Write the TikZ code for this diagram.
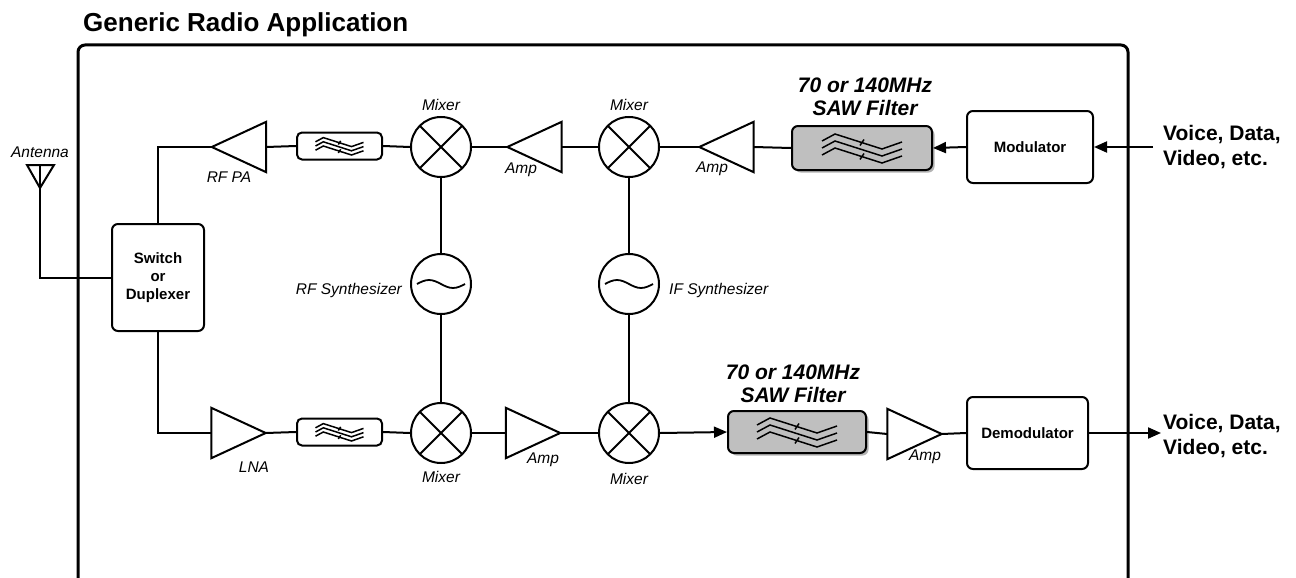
\documentclass[tikz,border=0pt]{standalone}
\usepackage{fontspec}
\setmainfont{Liberation Sans}
\usetikzlibrary{arrows.meta,shadows}
\newcommand\filtsym[2]{%
\begin{scope}[shift={(#1.center)}, scale=#2, line width=1.5pt]
 \foreach \d in {-7,0,7}{\draw (-40,\d) -- (-27,\d-7) -- (20,\d+8) -- (40,\d+1);}
 \draw (-2,-2.5) -- (2,-8.5);
 \draw (-2,11.5) -- (2,5.5);
\end{scope}}
\begin{document}
\begin{tikzpicture}[x=1pt,y=-1pt,
 wire/.style={line width=2pt},
 blk/.style={draw, line width=2pt, rounded corners=6pt, inner sep=0pt, font=\bfseries\fontsize{15}{18}\selectfont, align=center},
 filt/.style={draw, line width=2pt, rounded corners=5pt, minimum width=85pt, minimum height=27pt, inner sep=0pt},
 saw/.style={draw, line width=2pt, rounded corners=6pt, fill=black!25, drop shadow={shadow xshift=2.5pt, shadow yshift=-2.5pt, opacity=0.6}, inner sep=0pt},
 mix/.style={draw, circle, line width=2pt, minimum size=60pt, inner sep=0pt,
   path picture={\draw[line width=2pt] (path picture bounding box.north west) -- (path picture bounding box.south east) (path picture bounding box.north east) -- (path picture bounding box.south west);}},
 osc/.style={draw, circle, line width=2pt, minimum size=60pt, inner sep=0pt,
   path picture={\draw[line width=1.8pt] ([xshift=-24pt]path picture bounding box.center) sin ++(12pt,4pt) cos ++(12pt,-4pt) sin ++(12pt,-4pt) cos ++(12pt,4pt);}},
 ampbox/.style={minimum width=54pt, minimum height=50pt, inner sep=0pt},
 amptri/.style={line width=2pt, line join=miter},
 lbl/.style={font=\itshape\fontsize{15.5}{18}\selectfont, inner sep=0pt},
 sawlbl/.style={font=\bfseries\itshape\fontsize{21}{23}\selectfont, inner sep=0pt, align=center},
 io/.style={font=\bfseries\fontsize{21}{25}\selectfont, inner sep=0pt, align=left, anchor=west},
 arr/.style={line width=2pt, -{Triangle[length=13pt,width=11pt]}}
]
\useasboundingbox (0,0) rectangle (1296,578);

% title and frame
\node[anchor=base west, font=\bfseries\fontsize{26}{30}\selectfont, inner sep=0pt] (title) at (83,32) {Generic Radio Application};
\draw[line width=3pt, rounded corners=7pt] (78,600) -- (78,45) -- (1128,45) -- (1128,600);

% switch
\node[blk, minimum width=92pt, minimum height=107pt] (sw) at (158,277.5) {Switch\\or\\Duplexer};

% antenna
\coordinate (ant) at (40,188);
\coordinate (antl) at (27,165);
\coordinate (antr) at (54,165);
\coordinate (antt) at (40,165);
\draw[wire, line join=miter] (antl) -- (antr) -- (ant) -- cycle;
\draw[wire] (antt) -- (ant);
\node[lbl] (antlbl) at (40,152) {Antenna};
\draw[wire] (ant) |- (sw.west);

% top row (transmit)
\node[ampbox] (pa) at (239,147) {};
\draw[amptri] (pa.west) -- (pa.north east) -- (pa.south east) -- cycle;
\node[lbl] (palbl) at (229,177) {RF PA};
\node[filt] (f1) at (339.5,146) {};
\filtsym{f1}{0.6}
\node[mix] (m1) at (441,147) {};
\node[lbl] (m1lbl) at (441,105) {Mixer};
\node[ampbox] (a2) at (534.5,147) {};
\draw[amptri] (a2.west) -- (a2.north east) -- (a2.south east) -- cycle;
\node[lbl] (a2lbl) at (521,170) {Amp};
\node[mix] (m2) at (629,147) {};
\node[lbl] (m2lbl) at (629,105) {Mixer};
\node[ampbox] (a3) at (726.5,147) {};
\draw[amptri] (a3.west) -- (a3.north east) -- (a3.south east) -- cycle;
\node[lbl] (a3lbl) at (712,169) {Amp};
\node[saw, minimum width=140pt, minimum height=44pt] (saw1) at (862,148) {};
\filtsym{saw1}{1}
\node[sawlbl] (saw1lbl) at (865,96.5) {70 or 140MHz\\SAW Filter};
\node[blk, minimum width=126pt, minimum height=72pt] (mod) at (1030,147) {Modulator};
\coordinate (in1) at (1153,147);
\node[io] (vin) at (1163,147.5) {Voice, Data,\\Video, etc.};

\draw[wire] (sw.north) |- (pa.west);
\draw[wire] (pa.east) -- (f1.west);
\draw[wire] (f1.east) -- (m1.west);
\draw[wire] (m1.east) -- (a2.west);
\draw[wire] (a2.east) -- (m2.west);
\draw[wire] (m2.east) -- (a3.west);
\draw[wire] (a3.east) -- (saw1.west);
\draw[arr] (mod.west) -- (saw1.east);
\draw[arr] (in1) -- (mod.east);

% synthesizers
\node[osc] (rfs) at (441,284) {};
\node[lbl, anchor=east] (rfslbl) at (402,290) {RF Synthesizer};
\node[osc] (ifs) at (629,284) {};
\node[lbl, anchor=west] (ifslbl) at (669,290) {IF Synthesizer};

% bottom row (receive)
\node[ampbox] (lna) at (238.5,433) {};
\draw[amptri] (lna.east) -- (lna.north west) -- (lna.south west) -- cycle;
\node[lbl] (lnalbl) at (254,467) {LNA};
\node[filt] (f2) at (339.5,432) {};
\filtsym{f2}{0.6}
\node[mix] (m3) at (441,433) {};
\node[lbl] (m3lbl) at (441,477) {Mixer};
\node[ampbox] (b2) at (533,433) {};
\draw[amptri] (b2.east) -- (b2.north west) -- (b2.south west) -- cycle;
\node[lbl] (b2lbl) at (543,460) {Amp};
\node[mix] (m4) at (629,433) {};
\node[lbl] (m4lbl) at (629,479) {Mixer};
\node[saw, minimum width=138pt, minimum height=42pt] (saw2) at (797,432) {};
\filtsym{saw2}{1}
\node[sawlbl] (saw2lbl) at (793,383.5) {70 or 140MHz\\SAW Filter};
\node[ampbox] (b3) at (914.5,434) {};
\draw[amptri] (b3.east) -- (b3.north west) -- (b3.south west) -- cycle;
\node[lbl] (b3lbl) at (925,457) {Amp};
\node[blk, minimum width=121pt, minimum height=72pt] (dem) at (1027.5,433) {Demodulator};
\coordinate (out1) at (1161,433);
\node[io] (vout) at (1163,436) {Voice, Data,\\Video, etc.};

\draw[wire] (sw.south) |- (lna.west);
\draw[wire] (lna.east) -- (f2.west);
\draw[wire] (f2.east) -- (m3.west);
\draw[wire] (m3.east) -- (b2.west);
\draw[wire] (b2.east) -- (m4.west);
\draw[arr] (m4.east) -- (saw2.west);
\draw[wire] (saw2.east) -- (b3.west);
\draw[wire] (b3.east) -- (dem.west);
\draw[arr] (dem.east) -- (out1);

% LO connections
\draw[wire] (m1.south) -- (rfs.north);
\draw[wire] (rfs.south) -- (m3.north);
\draw[wire] (m2.south) -- (ifs.north);
\draw[wire] (ifs.south) -- (m4.north);
\end{tikzpicture}
\end{document}
